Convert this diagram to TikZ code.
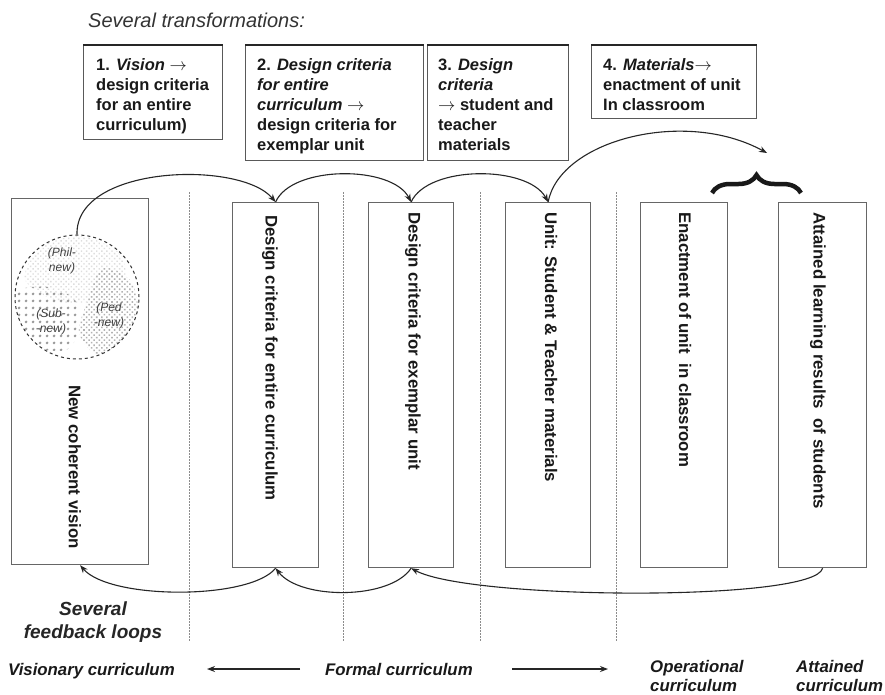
\documentclass[tikz,border=0pt]{standalone}
\usepackage{fontspec}
\setmainfont{Liberation Sans}
\usetikzlibrary{arrows.meta,decorations.pathreplacing,patterns,patterns.meta}
\begin{document}
\begin{tikzpicture}[x=1pt,y=-1pt,
  bigbox/.style={draw=black!60, line width=1.2pt, inner sep=0pt, anchor=north west},
  tbox/.style={draw=black!65, line width=1.2pt, inner sep=0pt, anchor=north west},
  ttext/.style={anchor=north west, align=left, inner sep=0pt, text=black!90, font=\bfseries\fontsize{16.5}{20}\selectfont},
  vtext/.style={rotate=-90, anchor=west, inner sep=0pt, text=black!90, font=\bfseries\fontsize{16.8}{20}\selectfont},
  btext/.style={inner sep=0pt, text=black!90, font=\bfseries\itshape\fontsize{16.8}{19}\selectfont},
  ctext/.style={inner sep=0pt, align=center, text=black!75, font=\itshape\fontsize{12}{14.5}\selectfont},
  divider/.style={black!45, line width=0.9pt, dash pattern=on 1.5pt off 1.5pt},
  loopline/.style={-{Stealth[length=8pt,width=6pt]}, line width=1.1pt, black!85},
  flowarrow/.style={-{Stealth[length=8pt,width=6pt]}, line width=1.1pt, black!85},
  bracestyle/.style={line width=4.5pt, black!90, decorate, decoration={brace, amplitude=18pt, aspect=0.5}}
]
\useasboundingbox (0,0) rectangle (885,694);
\fill[white] (0,0) rectangle (885,694);

% title
\node[anchor=base west, inner sep=0pt, text=black!80, font=\itshape\fontsize{20}{24}\selectfont] (title) at (88,27) {Several transformations:};

% transformation boxes
\node[tbox, minimum width=139pt, minimum height=94pt] (t1) at (83,45) {};
\node[tbox, minimum width=178pt, minimum height=115pt] (t2) at (245,45) {};
\node[tbox, minimum width=141pt, minimum height=115pt] (t3) at (427,45) {};
\node[tbox, minimum width=165pt, minimum height=73pt] (t4) at (591,45) {};
\foreach \t in {t1,t2,t3,t4} \draw[black!85, line width=1.6pt] (\t.north west) -- (\t.north east);

\node[ttext] (t1t) at (96,56) {\strut 1. \textit{Vision} $\rightarrow$\\design criteria\\for an entire\\curriculum)};
\node[ttext] (t2t) at (257,56) {\strut 2. \textit{Design criteria}\\\textit{for entire}\\\textit{curriculum} $\rightarrow$\\design criteria for\\exemplar unit};
\node[ttext] (t3t) at (438,56) {\strut 3. \textit{Design}\\\textit{criteria}\\$\rightarrow$ student and\\teacher\\materials};
\node[ttext] (t4t) at (603,56) {\strut 4. \textit{Materials}$\rightarrow$\\enactment of unit\\In classroom};

% dividers
\coordinate (d1a) at (189,192); \coordinate (d1b) at (189,642);
\coordinate (d2a) at (343,192); \coordinate (d2b) at (343,642);
\coordinate (d3a) at (480,192); \coordinate (d3b) at (480,642);
\coordinate (d4a) at (616,192); \coordinate (d4b) at (616,642);
\draw[divider] (d1a) -- (d1b);
\draw[divider] (d2a) -- (d2b);
\draw[divider] (d3a) -- (d3b);
\draw[divider] (d4a) -- (d4b);

% big boxes
\node[bigbox, minimum width=137pt, minimum height=366pt] (box1) at (11,198) {};
\node[bigbox, minimum width=86pt, minimum height=365pt] (box2) at (232,202) {};
\node[bigbox, minimum width=85pt, minimum height=365pt] (box3) at (368,202) {};
\node[bigbox, minimum width=85pt, minimum height=365pt] (box4) at (505,202) {};
\node[bigbox, minimum width=87pt, minimum height=365pt] (box5) at (640,202) {};
\node[bigbox, minimum width=88pt, minimum height=365pt] (box6) at (778,202) {};

% circle with patterned regions
\begin{scope}
  \clip (77,297) circle (62);
  \fill[pattern={Dots[radius=1pt, distance=3.6pt, angle=45]}, pattern color=black!13]
    plot[smooth cycle] coordinates {(25,280) (40,248) (80,236) (118,252) (125,280) (100,300) (60,302)};
  \fill[pattern={Dots[radius=1.6pt, distance=6.5pt]}, pattern color=black!40]
    plot[smooth cycle] coordinates {(16,292) (48,287) (75,300) (79,330) (66,350) (35,347) (17,325)};
  \fill[pattern={Dots[radius=1.1pt, distance=3.6pt, angle=45]}, pattern color=black!30]
    plot[smooth cycle] coordinates {(102,268) (130,280) (138,312) (126,346) (96,354) (79,332) (88,300)};
\end{scope}
\node[circle, draw=black!80, dashed, line width=1pt, minimum size=124pt, inner sep=0pt] (circ) at (77,297) {};
\node[ctext] (phil) at (62,261) {(Phil-\\new)};
\node[ctext] (sub) at (51,322) {(Sub-\\-new)};
\node[ctext] (ped) at (109,316) {(Ped\\-new)};

% vertical texts
\node[vtext] (v1) at (75,385) {New coherent vision};
\node[vtext] (v2) at (270,215) {Design criteria for entire curriculum};
\node[vtext] (v3) at (413,212) {Design criteria for exemplar unit};
\node[vtext] (v4) at (551,212) {Unit: Student \& Teacher materials};
\node[vtext] (v5) at (685,212) {Enactment of unit\ \ in classroom};
\node[vtext] (v6) at (818,212) {Attained learning results\ \ of students};

% top arcs
\coordinate (a4end) at (767,153);
\draw[loopline] (circ.north) .. controls (75,165) and (240,160) .. (box2.north);
\draw[loopline] (box2.north) .. controls (292,165) and (392,165) .. (box3.north);
\draw[loopline] (box3.north) .. controls (428,165) and (528,165) .. (box4.north);
\draw[loopline] (box4.north) .. controls (560,140) and (685,108) .. (a4end);

% brace
\coordinate (brl) at (712,193); \coordinate (brr) at (801,193);
\draw[bracestyle] (brl) -- (brr);

% feedback arcs
\draw[loopline] (box2.south) .. controls (250,600) and (110,600) .. (box1.south);
\draw[loopline] (box3.south) .. controls (390,600) and (300,600) .. (box2.south);
\draw[loopline] (box6.south) .. controls (815,602) and (470,600) .. (box3.south);

% feedback label
\node[inner sep=0pt, align=center, anchor=north, text=black!85, font=\bfseries\itshape\fontsize{19}{23}\selectfont] (fb) at (93,599) {\strut Several\\feedback loops};

% bottom labels
\node[btext, anchor=base west] (vis) at (8,675) {Visionary curriculum};
\node[btext, anchor=base west] (form) at (325,675) {Formal curriculum};
\node[btext, anchor=north west, align=left] (oper) at (650,658.5) {\strut Operational\\curriculum};
\node[btext, anchor=north west, align=left] (att) at (796,658.5) {\strut Attained\\curriculum};

\coordinate (la1) at (300,669); \coordinate (la2) at (207,669);
\coordinate (ra1) at (512,669); \coordinate (ra2) at (608,669);
\draw[flowarrow] (la1) -- (la2);
\draw[flowarrow] (ra1) -- (ra2);
\end{tikzpicture}
\end{document}
